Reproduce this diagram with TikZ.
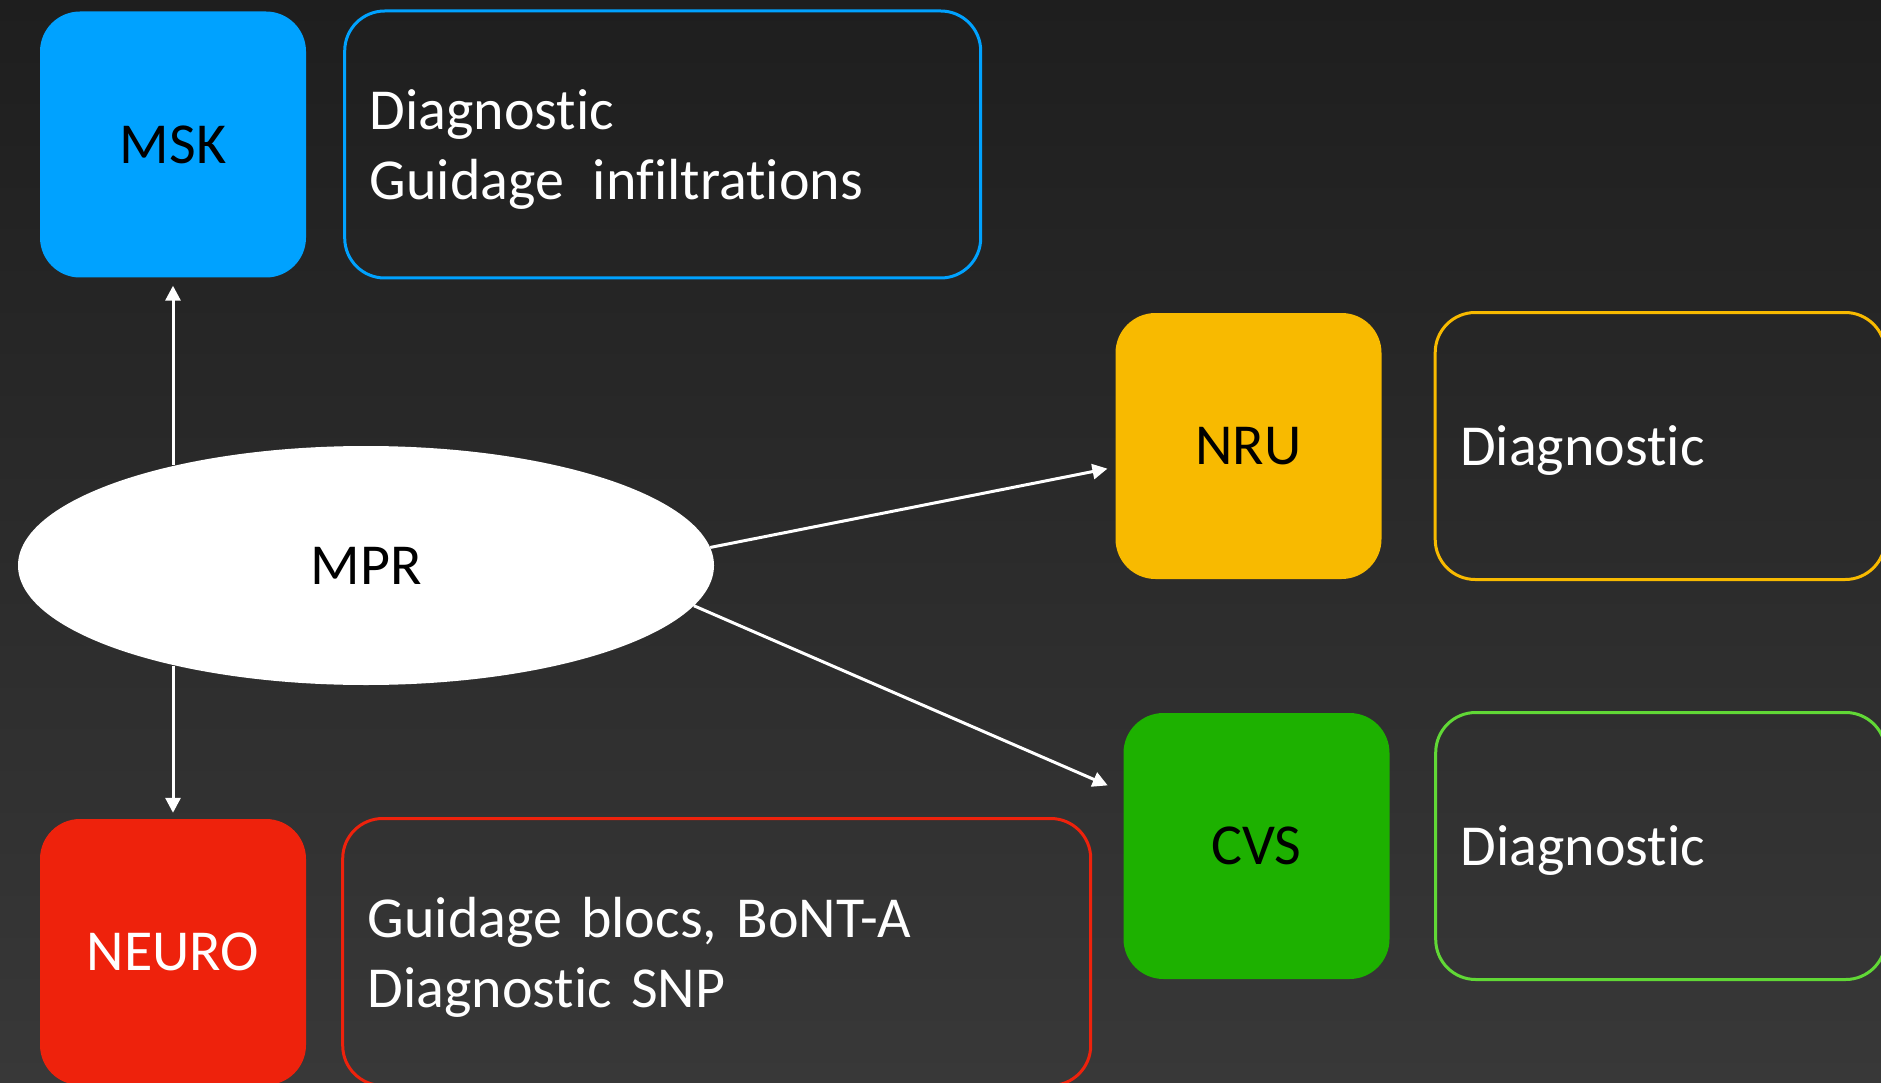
\documentclass[tikz,border=0pt]{standalone}
\usepackage{fontspec}
\setmainfont[Ligatures=NoCommon]{Carlito}
\usetikzlibrary{arrows.meta, positioning, shapes.geometric}

\definecolor{bleu}{HTML}{00A2FF}
\definecolor{jaune}{HTML}{F8BA00}
\definecolor{vert}{HTML}{1DB100}
\definecolor{vertclair}{HTML}{61D836}
\definecolor{rouge}{HTML}{EE220C}
\definecolor{fondhaut}{HTML}{1E1E1E}
\definecolor{fondbas}{HTML}{383838}

\newcommand{\police}{\fontsize{58}{70}\selectfont\setlength{\spaceskip}{11pt plus 3pt minus 3pt}}

\begin{document}
\frenchspacing
\begin{tikzpicture}[
                x=1pt, y=-1pt,
                every node/.style={font=\police},
                pole/.style={rectangle, rounded corners=40pt, minimum width=266pt, minimum height=266pt, inner sep=0pt},
                info/.style={rectangle, draw, line width=3pt, rounded corners=40pt, minimum height=267pt, inner xsep=25pt, align=left, text=white, text depth=0pt},
                arrow/.style={-{Triangle[length=15pt, width=15pt]}, white, line width=3pt}]

            \useasboundingbox (0,0) rectangle (1881,1083);
            \fill[top color=fondhaut, bottom color=fondbas] (0,0) rectangle (1881,1083);

            % Centre
            \node[ellipse, fill=white, minimum width=696pt, minimum height=239pt, inner sep=0pt] (mpr) at (366,565.5) {MPR};

            % Poles
            \node[pole, fill=bleu] (msk) at (173,144.5) {MSK};
            \node[pole, fill=jaune] (nru) at (1248.5,446) {NRU};
            \node[pole, fill=vert] (cvs) at (1256.5,846) {CVS};
            \node[pole, fill=rouge, text=white] (neuro) at (173,952) {NEURO};

            % Descriptions
            \node[info, draw=bleu, text width=586pt, text depth=70pt, right=37pt of msk] (mskinfo) {Diagnostic\\Guidage\hspace{29pt}infiltrations};
            \node[info, draw=jaune, text width=400pt, right=52pt of nru] (nruinfo) {Diagnostic};
            \node[info, draw=vertclair, text width=400pt, right=44.5pt of cvs] (cvsinfo) {Diagnostic};
            \node[info, draw=rouge, text width=698pt, text depth=70pt, right=35pt of neuro] (neuroinfo) {Guidage blocs, BoNT-A\\Diagnostic SNP};

            % Liens
            \draw[arrow, shorten >=8pt] (mpr.152 -| msk.south) -- (msk.south);
            \draw[arrow, shorten >=6pt] (mpr.208 -| neuro.north) -- (neuro.north);
            \draw[arrow, shorten >=8pt] (mpr.3) -- (nru.189);
            \draw[arrow, shorten >=17pt] (mpr.-7) -- (cvs.158);

        \end{tikzpicture}
\end{document}
